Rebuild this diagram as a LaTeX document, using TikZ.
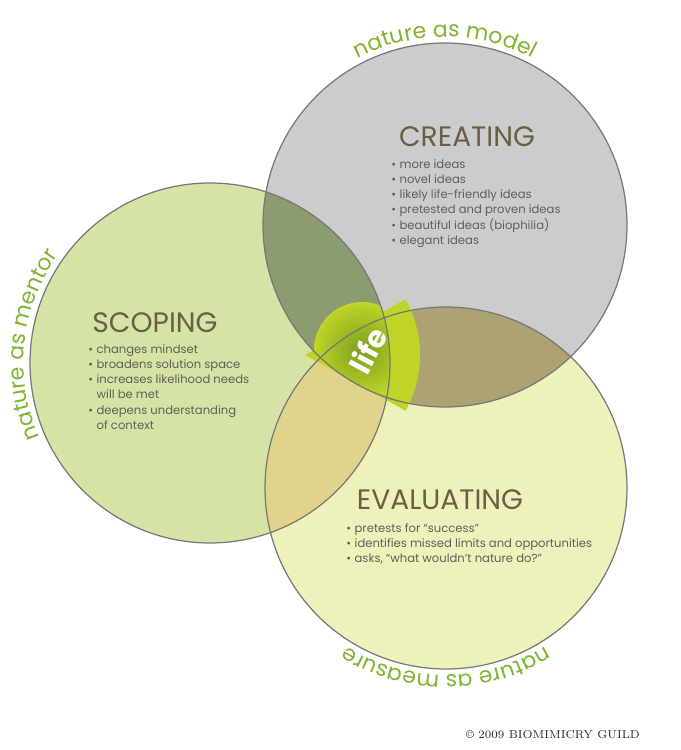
\documentclass[tikz,border=0pt]{standalone}
\usepackage{fontspec}
\usetikzlibrary{decorations.text}
\newfontfamily\pop{Poppins}
\definecolor{cre}{RGB}{204,204,204}
\definecolor{sco}{RGB}{213,228,164}
\definecolor{eva}{RGB}{238,242,186}
\definecolor{cs}{RGB}{140,156,112}
\definecolor{ce}{RGB}{172,162,116}
\definecolor{se}{RGB}{224,212,140}
\definecolor{lime}{RGB}{192,212,40}
\definecolor{limed}{RGB}{120,160,30}
\definecolor{ring}{RGB}{120,120,120}
\definecolor{head}{RGB}{105,95,70}
\definecolor{bul}{RGB}{95,95,90}
\definecolor{natg}{RGB}{130,180,50}
\tikzset{
  heading/.style={font=\pop\fontsize{16}{18}\selectfont, text=head, inner sep=0},
  bullets/.style={font=\pop\fontsize{6.6}{8.7}\selectfont, text=bul, inner sep=0, anchor=north west},
  natlabel/.style={decorate, decoration={text along path, text align=center,
     text={|\pop\fontsize{12.5}{14}\selectfont\color{natg}|#1}}},
}
\begin{document}
\begin{tikzpicture}[x=0.02cm,y=0.02cm]
\useasboundingbox (0,0) rectangle (680,750);
\fill[white] (0,0) rectangle (680,750);
\coordinate (C1) at (445,525);
\coordinate (C2) at (210,387);
\coordinate (C3) at (446,262);
\def\rA{182}\def\rB{180}\def\rC{181}
% base fills
\fill[cre] (C1) circle (\rA);
\fill[sco] (C2) circle (\rB);
\fill[eva] (C3) circle (\rC);
% pair overlaps
\begin{scope}\clip (C1) circle (\rA); \fill[cs] (C2) circle (\rB); \end{scope}
\begin{scope}\clip (C1) circle (\rA); \fill[ce] (C3) circle (\rC); \end{scope}
\begin{scope}\clip (C2) circle (\rB); \fill[se] (C3) circle (\rC); \end{scope}
% life sector
\fill[lime] (305,395) -- ++(-29:115) arc (-29:29:115) -- cycle;
\begin{scope}
  \clip (C1) circle (\rA); \clip (C2) circle (\rB);
  \shade[inner color=limed, outer color=lime] (362,400) circle (48);
\end{scope}
% outlines
\draw[ring, line width=0.7pt] (C1) circle (\rA) (C2) circle (\rB) (C3) circle (\rC);
\node[font=\pop\bfseries\fontsize{17}{18}\selectfont, text=white, rotate=62] (life) at (368,400) {life};
% curved labels
\path[natlabel={nature as model}] (C1) ++(135:188) arc (135:45:188);
\path[natlabel={nature as mentor}] (C2) ++(214:186) arc (214:134:186);
\path[natlabel={nature as measure}] (C3) ++(312:187) arc (312:228:187);
% headings
\node[heading] (hc) at (467,613) {CREATING};
\node[heading] (hs) at (155,427) {SCOPING};
\node[heading] (he) at (440,250) {EVALUATING};
\node[bullets] (bc) at (391,593) {\begin{tabular}{@{}l@{\hspace{2pt}}l@{}}
•&more ideas\\ •&novel ideas\\ •&likely life-friendly ideas\\ •&pretested and proven ideas\\ •&beautiful ideas (biophilia)\\ •&elegant ideas\end{tabular}};
\node[bullets] (bs) at (88,408) {\begin{tabular}{@{}l@{\hspace{2pt}}l@{}}
•&changes mindset\\ •&broadens solution space\\ •&increases likelihood needs\\ &will be met\\ •&deepens understanding\\ &of context\end{tabular}};
\node[bullets] (be) at (346,229) {\begin{tabular}{@{}l@{\hspace{2pt}}l@{}}
•&pretests for “success”\\ •&identifies missed limits and opportunities\\ •&asks, “what wouldn’t nature do?”\end{tabular}};
\node[font=\fontsize{6.5}{8}\selectfont, text=black!85, anchor=east, inner sep=0] (copy) at (640,15) {© 2009 BIOMIMICRY GUILD};
\end{tikzpicture}
\end{document}
